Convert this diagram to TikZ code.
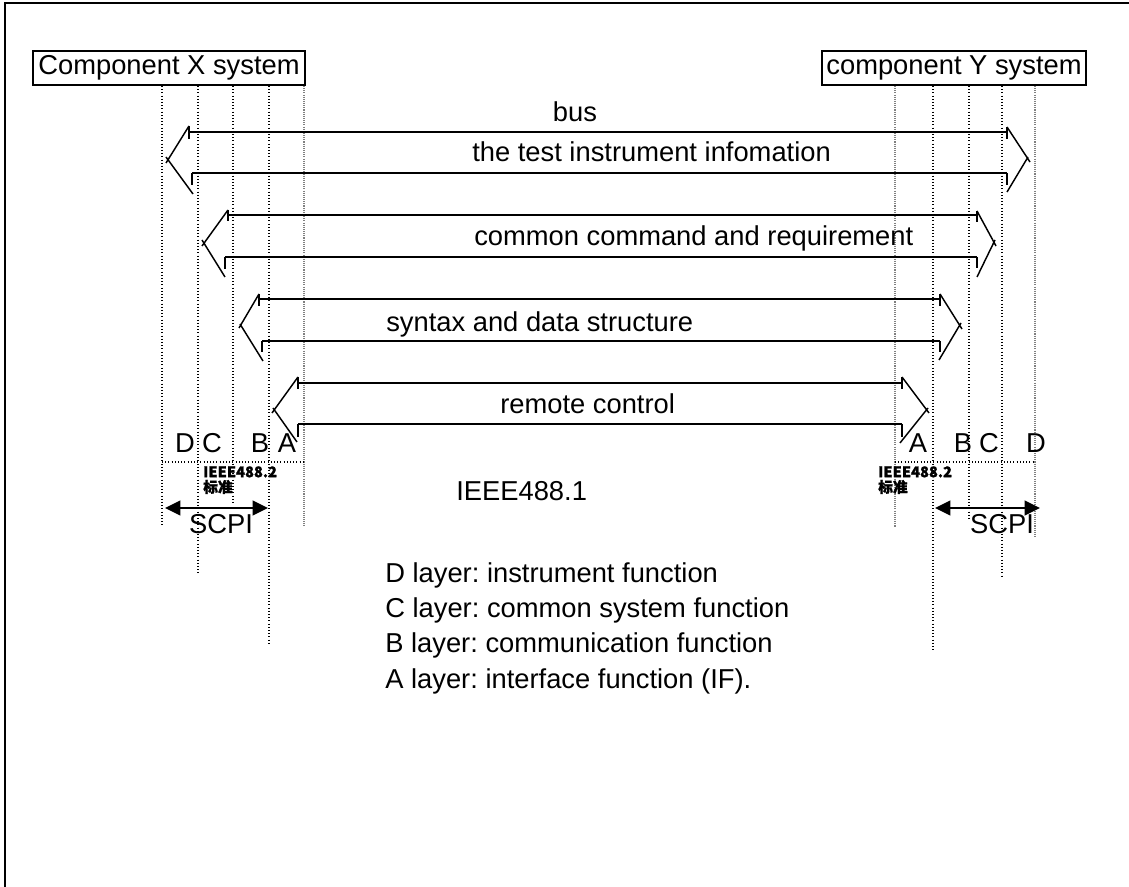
\documentclass[tikz,border=0pt]{standalone}
\usepackage{fontspec}
\setmainfont{Liberation Sans}
\newfontfamily\cjk{Noto Sans CJK SC}[FakeBold=1.2]
\usetikzlibrary{arrows.meta}
\frenchspacing
\begin{document}
\begin{tikzpicture}[x=0.75pt,y=-0.75pt,
  every node/.style={font=\fontsize{20.5}{24}\selectfont, inner sep=0pt},
  sysbox/.style={draw, line width=1.5pt, minimum height=25.5pt},
  barrow/.style={line width=1.1pt, line cap=butt},
  vdot/.style={line width=0.8pt, dash pattern=on 0.8pt off 1.6pt},
  vgray/.style={line width=0.8pt, gray, dash pattern=on 0.8pt off 0.8pt},
  scpi/.style={line width=1.3pt, {Triangle[length=11.5pt,width=11pt]}-{Triangle[length=11.5pt,width=11pt]}},
  small/.style={font=\cjk\bfseries\fontsize{11}{11.5}\selectfont, align=left, anchor=north west}
]
\useasboundingbox (0,0) rectangle (1129,887);
% frame
\draw[line width=1.5pt] (5,887) -- (5,3) -- (1129,3);

% system boxes
\node[sysbox, minimum width=204pt] (X) at (169,68) {Component X system};
\node[sysbox, minimum width=198pt] (Y) at (954,68) {component Y system};

% vertical layer lines, left
\coordinate (l1) at (162,86); \coordinate (l2) at (198,86); \coordinate (l3) at (233,86);
\coordinate (l4) at (269,86); \coordinate (l5) at (304,86);
\draw[vdot] (l1) -- (162,526);
\draw[vdot] (l2) -- (198,575);
\draw[vdot] (l3) -- (233,505);
\draw[vdot] (l4) -- (269,645);
\draw[vgray] (l5) -- (304,526);
% vertical layer lines, right
\coordinate (r1) at (895,86); \coordinate (r2) at (933,86); \coordinate (r3) at (969,86);
\coordinate (r4) at (1002,86); \coordinate (r5) at (1035,86);
\draw[vgray] (r1) -- (895,527);
\draw[vdot] (r2) -- (933,650);
\draw[vdot] (r3) -- (969,520);
\draw[vdot] (r4) -- (1002,577);
\draw[vgray] (r5) -- (1035,537);
% horizontal dotted lines
\draw[vdot] (162,462) -- (304,462);
\draw[vdot] (895,462) -- (1035,462);

% arrow 1 (bus / test instrument)
\draw[barrow] (189,126)--(166,163) (166,157)--(193,194);
\draw[barrow] (189,126)--(189,139) (192,173)--(192,185);
\draw[barrow] (189,132)--(1007,132) (192,173)--(1007,173);
\draw[barrow] (1007,127)--(1030,162) (1028,157)--(1007,192);
\draw[barrow] (1007,127)--(1007,139) (1007,173)--(1007,185);
% arrow 2 (common command)
\draw[barrow] (228,210)--(202,246) (202,240)--(225,277);
\draw[barrow] (228,210)--(228,221) (225,257)--(225,269);
\draw[barrow] (228,215)--(977,215) (225,257)--(977,257);
\draw[barrow] (977,211)--(996,246) (995,240)--(977,277);
\draw[barrow] (977,211)--(977,222) (977,257)--(977,268);
% arrow 3 (syntax)
\draw[barrow] (259,294)--(239,328) (240,324)--(263,361);
\draw[barrow] (259,294)--(259,306) (262,341)--(262,352);
\draw[barrow] (259,299)--(940,299) (262,341)--(940,341);
\draw[barrow] (940,294)--(962,329) (961,323)--(939,360);
\draw[barrow] (940,294)--(940,306) (940,341)--(940,352);
% arrow 4 (remote control)
\draw[barrow] (298,377)--(272,413) (273,408)--(297,442);
\draw[barrow] (298,377)--(298,389) (298,424)--(298,437);
\draw[barrow] (298,383)--(902,383) (298,424)--(902,424);
\draw[barrow] (902,377)--(929,413) (928,408)--(900,443);
\draw[barrow] (902,377)--(902,389) (902,424)--(902,437);

% arrow texts
\node[anchor=base] (bus) at (575,122) {bus};
\node[anchor=base west] (tii) at (472,162) {the test instrument infomation};
\node[anchor=base west] (ccr) at (474,246) {common command and requirement};
\node[anchor=base west] (sds) at (386,332) {syntax and data structure};
\node[anchor=base west] (rc) at (500,414) {remote control};

% layer letters
\node[anchor=base] (LD) at (185,453) {D};
\node[anchor=base] (LC) at (212,453) {C};
\node[anchor=base] (LB) at (260,453) {B};
\node[anchor=base] (LA) at (287,453) {A};
\node[anchor=base] (RA) at (918,453) {A};
\node[anchor=base] (RB) at (963,453) {B};
\node[anchor=base] (RC) at (989,453) {C};
\node[anchor=base] (RD) at (1036,453) {D};

% small standard labels
\node[small] (s1) at (203,466) {IEEE488.2\\标准};
\node[small] (s2) at (878,466) {IEEE488.2\\标准};
\node[anchor=base west] (ieee) at (456,501) {IEEE488.1};

% SCPI arrows
\coordinate (sl1) at (165,508); \coordinate (sl2) at (268,508);
\coordinate (sr1) at (935,508); \coordinate (sr2) at (1040,508);
\draw[scpi] (sl1) -- (sl2);
\draw[scpi] (sr1) -- (sr2);
\node[anchor=base] (scpil) at (221,534) {SCPI};
\node[anchor=base] (scpir) at (1002,534) {SCPI};

% legend
\node[anchor=base west] (lg1) at (385,583) {D layer: instrument function};
\node[anchor=base west] (lg2) at (385,618) {C layer: common system function};
\node[anchor=base west] (lg3) at (385,653) {B layer: communication function};
\node[anchor=base west] (lg4) at (385,689) {A layer: interface function (IF).};
\end{tikzpicture}
\end{document}
